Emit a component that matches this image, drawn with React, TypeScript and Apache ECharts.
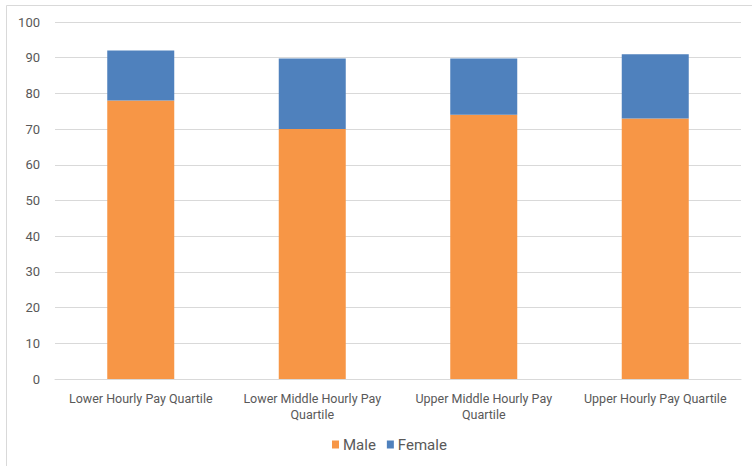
import React, { useEffect, useRef } from "react";
import * as echarts from "echarts";

const categories = [
  "Lower Hourly Pay Quartile",
  "Lower Middle Hourly Pay\nQuartile",
  "Upper Middle Hourly Pay\nQuartile",
  "Upper Hourly Pay Quartile",
];
const maleValues = [78, 70, 74, 73];
const femaleValues = [14, 19.8, 15.8, 18];

export default function App() {
  const ref = useRef<HTMLDivElement>(null);
  useEffect(() => {
    const chart = echarts.init(ref.current!, null, { renderer: "svg" });
    chart.setOption({
      animation: false,
      backgroundColor: "#ffffff",
      textStyle: { fontFamily: "Roboto" },
      graphic: [
        {
          type: "rect",
          shape: { x: 6.5, y: 5.5, width: 800, height: 500 },
          style: { fill: "none", stroke: "#d9d9d9", lineWidth: 1 },
          silent: true,
        },
      ],
      grid: { left: 55, right: 11, top: 22, bottom: 87 },
      legend: {
        top: 437,
        left: 332,
        padding: 0,
        itemWidth: 7,
        itemHeight: 8,
        itemGap: 11,
        icon: "rect",
        textStyle: { color: "#595959", fontSize: 15, padding: [0, 0, 0, -1] },
        data: ["Male", "Female"],
      },
      xAxis: {
        type: "category",
        data: categories,
        axisLine: { lineStyle: { color: "#d9d9d9" } },
        axisTick: { show: false },
        axisLabel: { color: "#595959", fontSize: 12.5, margin: 11, lineHeight: 16, interval: 0 },
      },
      yAxis: {
        type: "value",
        min: 0,
        max: 100,
        interval: 10,
        axisLine: { show: false },
        axisTick: { show: false },
        splitLine: { lineStyle: { color: "#d9d9d9" } },
        axisLabel: { color: "#595959", fontSize: 13, margin: 15 },
      },
      series: [
        {
          name: "Male",
          type: "bar",
          stack: "total",
          barWidth: 67,
          data: maleValues,
          itemStyle: { color: "#F79646" },
        },
        {
          name: "Female",
          type: "bar",
          stack: "total",
          barWidth: 67,
          data: femaleValues,
          itemStyle: { color: "#4F81BD" },
        },
      ],
    });
    return () => chart.dispose();
  }, []);
  return (
    <div
      ref={ref}
      style={{ position: "fixed", left: 0, top: 0, width: 752, height: 466 }}
    />
  );
}
